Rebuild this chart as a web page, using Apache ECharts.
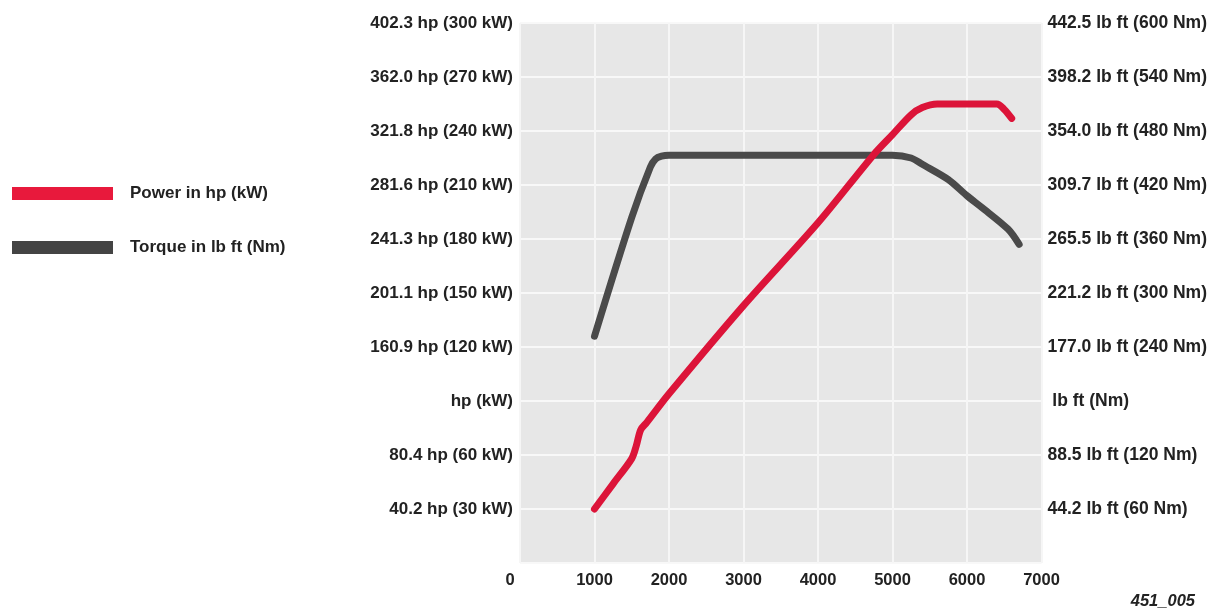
<!DOCTYPE html>
<html>
<head>
<meta charset="utf-8">
<script src="https://cdn.jsdelivr.net/npm/echarts@6/dist/echarts.min.js"></script>
<style>
html,body{margin:0;padding:0;background:#fff;}
#chart{width:1210px;height:612px;}
</style>
</head>
<body>
<div id="chart"></div>
<script>
// X axis: engine speed (rpm)
const xTicks = ['0','1000','2000','3000','4000','5000','6000','7000'];
// Left axis tick labels (kW 0..300 step 30)
const leftLabels = ['', '40.2 hp (30 kW)', '80.4 hp (60 kW)', 'hp (kW)', '160.9 hp (120 kW)', '201.1 hp (150 kW)', '241.3 hp (180 kW)', '281.6 hp (210 kW)', '321.8 hp (240 kW)', '362.0 hp (270 kW)', '402.3 hp (300 kW)'];
// Right axis tick labels (Nm 0..600 step 60)
const rightLabels = ['', '44.2 lb ft (60 Nm)', '88.5 lb ft (120 Nm)', ' lb ft (Nm)', '177.0 lb ft (240 Nm)', '221.2 lb ft (300 Nm)', '265.5 lb ft (360 Nm)', '309.7 lb ft (420 Nm)', '354.0 lb ft (480 Nm)', '398.2 lb ft (540 Nm)', '442.5 lb ft (600 Nm)'];

// Power (kW)
const powerRpm = [1000, 1250, 1500, 1560, 1620, 1700, 2000, 3000, 4000, 4750, 5000, 5250, 5400, 5600, 6000, 6400, 6500, 6600];
const powerKw  = [30, 44, 58, 65, 74, 78, 94, 143, 189, 227, 238, 249, 253, 255, 255, 255, 252, 247];

// Torque (Nm)
const torqueRpm = [1000, 1500, 1750, 1820, 1900, 2000, 3000, 4000, 5000, 5250, 5400, 5750, 6000, 6200, 6550, 6700];
const torqueNm  = [252, 384, 440, 449, 452, 453, 453, 453, 453, 450, 443, 426, 408, 395, 371, 354];

const chart = echarts.init(document.getElementById('chart'), null, {renderer: 'canvas'});

const FONT = '"Liberation Sans", Arial, sans-serif';
const labelFont = {
  fontFamily: FONT,
  fontWeight: 'bold',
  fontSize: 17,
  color: '#222'
};

const option = {
  backgroundColor: '#fff',
  animation: false,
  grid: {
    left: 520, right: 168, top: 23, bottom: 49,
    show: true, backgroundColor: '#e7e7e7', borderWidth: 0
  },
  legend: {
    orient: 'vertical',
    left: 7,
    top: 180,
    itemWidth: 101,
    itemHeight: 13,
    itemGap: 37,
    icon: 'rect',
    textStyle: Object.assign({}, labelFont, {lineHeight: 13, padding: [0, 0, 0, 12]}),
    data: [
      {name: 'Power in hp (kW)', itemStyle: {color: '#e8193c'}},
      {name: 'Torque in lb ft (Nm)', itemStyle: {color: '#444444'}}
    ]
  },
  xAxis: {
    type: 'value',
    min: 0, max: 7000, interval: 1000,
    axisLine: {show: false},
    axisTick: {show: false},
    axisLabel: Object.assign({}, labelFont, {
      fontSize: 16.5,
      margin: 9,
      formatter: function (v) {
        const i = Math.round(v / 1000);
        return i === 0 ? '{z|' + xTicks[i] + '}' : xTicks[i];
      },
      rich: {z: Object.assign({}, labelFont, {fontSize: 16.5, padding: [0, 20, 0, 0]})}
    }),
    splitLine: {show: true, lineStyle: {color: '#f6f6f6', width: 2}}
  },
  yAxis: [
    {
      type: 'value',
      min: 0, max: 300, interval: 30,
      position: 'left',
      axisLine: {show: false},
      axisTick: {show: false},
      axisLabel: Object.assign({}, labelFont, {
        margin: 7,
        formatter: function (v) { return leftLabels[Math.round(v / 30)]; }
      }),
      splitLine: {show: true, lineStyle: {color: '#f8f8f8', width: 2}}
    },
    {
      type: 'value',
      min: 0, max: 600, interval: 60,
      position: 'right',
      axisLine: {show: false},
      axisTick: {show: false},
      axisLabel: Object.assign({}, labelFont, {
        fontSize: 17.5,
        margin: 6,
        formatter: function (v) { return rightLabels[Math.round(v / 60)]; }
      }),
      splitLine: {show: false}
    }
  ],
  series: [
    {
      name: 'Power in hp (kW)',
      type: 'line',
      yAxisIndex: 0,
      showSymbol: false,
      smooth: 0.3,
      data: powerRpm.map((r, i) => [r, powerKw[i]]),
      lineStyle: {color: '#dc1439', width: 7, cap: 'round', join: 'round'},
      itemStyle: {color: '#e8193c'},
      z: 3
    },
    {
      name: 'Torque in lb ft (Nm)',
      type: 'line',
      yAxisIndex: 1,
      showSymbol: false,
      smooth: 0.3,
      data: torqueRpm.map((r, i) => [r, torqueNm[i]]),
      lineStyle: {color: '#4a4a4a', width: 7, cap: 'round', join: 'round'},
      itemStyle: {color: '#444444'},
      z: 2
    }
  ],
  graphic: [
    {
      type: 'text',
      right: 15,
      top: 593,
      style: {
        text: '451_005',
        font: 'italic bold 16.5px "Liberation Sans", Arial, sans-serif',
        fill: '#222'
      }
    }
  ]
};
chart.setOption(option);
</script>
</body>
</html>
